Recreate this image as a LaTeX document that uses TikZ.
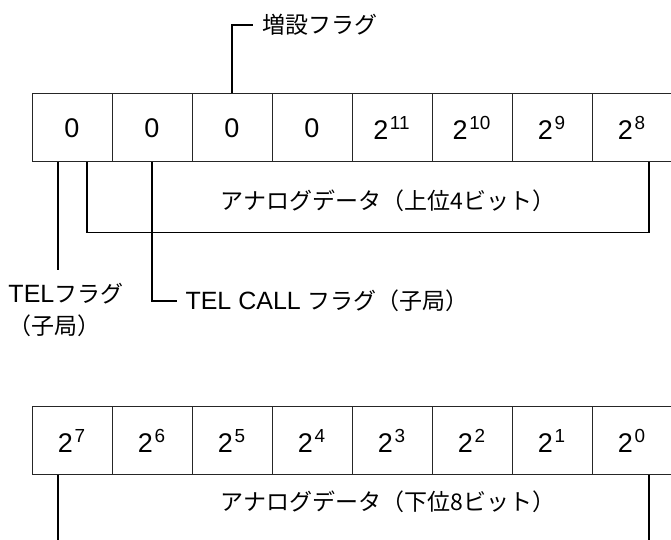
\documentclass[tikz,border=0pt]{standalone}
\usepackage{fontspec}
\setmainfont{Liberation Sans}
\newfontfamily\jp[Scale=0.92]{Noto Sans CJK JP}
\usetikzlibrary{positioning, calc}
\tikzset{
  every picture/.style={line width=0.5pt, x=0.5pt, y=-0.5pt},
  cell/.style={draw=black!85, minimum width=40pt, minimum height=34pt, inner sep=0pt,
               font=\fontsize{13.5pt}{16pt}\selectfont},
  lbl/.style={inner sep=0pt, font=\fontsize{12.5pt}{15pt}\selectfont, align=center},
  lead/.style={draw=black, line width=0.55pt},
}
\newcommand{\pw}[1]{2\kern0.8pt\textsuperscript{#1}}
\begin{document}
\begin{tikzpicture}
  \useasboundingbox (0,0) rectangle (671,540);
  % upper word
  \foreach \v [count=\i] in {0, 0, 0, 0, \pw{11}, \pw{10}, \pw{9}, \pw{8}} {
    \pgfmathsetmacro{\x}{80*\i-8}
    \node[cell] (t\i) at (\x,128) {\v};
  }
  % lower word
  \foreach \e [count=\i] in {7,6,...,0} {
    \pgfmathsetmacro{\x}{80*\i-8}
    \node[cell] (b\i) at (\x,441) {\pw{\e}};
  }
  % labels
  \node[lbl, anchor=west] (zosetsu) at (262,25) {\jp 増設フラグ};
  \node[lbl] (upper) at (388,201) {\jp アナログデータ（上位4ビット）};
  \node[lbl, align=left, anchor=west] (telflag) at (8,310) {TEL{\jp フラグ}\\[1pt]{\jp （子局）}};
  \node[lbl, anchor=west] (telcall) at (185,301) {TEL CALL {\jp フラグ（子局）}};
  \node[lbl] (lower) at (388,502) {\jp アナログデータ（下位8ビット）};
  \coordinate (zk) at (253,25);
  \coordinate (ck) at (177,301);
  % leaders
  \draw[lead] (t3.north) |- (zk);
  \draw[lead] ([xshift=-7pt]t1.south) -- ++(0,108);
  \draw[lead] ([xshift=7.5pt]t1.south) -- ++(0,70) -| ([xshift=8.5pt]t8.south);
  \draw[lead] (t2.south) |- (ck);
  \draw[lead] ([xshift=-7pt]b1.south) -- ++(0,70);
  \draw[lead] ([xshift=8.5pt]b8.south) -- ++(0,70);
\end{tikzpicture}
\end{document}
